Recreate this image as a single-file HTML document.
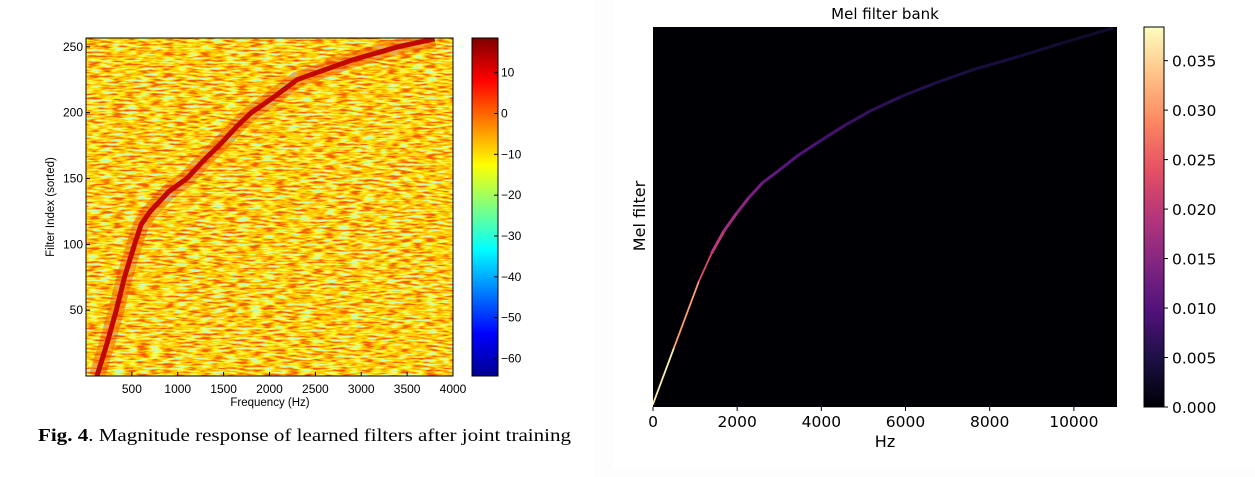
<!DOCTYPE html>
<html><head><meta charset="utf-8"><style>
html,body{margin:0;padding:0;background:#fff;}
svg{display:block;}
</style></head><body>
<svg id="root" width="1255" height="477" viewBox="0 0 1255 477" xmlns="http://www.w3.org/2000/svg">
<defs>
  <filter id="noise" x="0" y="0" width="100%" height="100%">
    <feTurbulence type="fractalNoise" baseFrequency="0.08 0.5" numOctaves="2" seed="3" result="t"/>
    <feColorMatrix type="matrix" in="t" values="2.4 0 0 0 -0.65  2.4 0 0 0 -0.65  2.4 0 0 0 -0.65  0 0 0 0 1"/>
    <feComponentTransfer>
      <feFuncR type="table" tableValues="0.55 1 1 1 0.88"/>
      <feFuncG type="table" tableValues="1 0.95 0.7 0.42 0.12"/>
      <feFuncB type="table" tableValues="0.45 0.05 0 0 0"/>
    </feComponentTransfer>
  </filter>
  <linearGradient id="jet" x1="0" y1="1" x2="0" y2="0">
    <stop offset="0" stop-color="#00008f"/>
    <stop offset="0.125" stop-color="#0000ff"/>
    <stop offset="0.375" stop-color="#00ffff"/>
    <stop offset="0.625" stop-color="#ffff00"/>
    <stop offset="0.875" stop-color="#ff0000"/>
    <stop offset="1" stop-color="#800000"/>
  </linearGradient>
  <linearGradient id="magma" x1="0" y1="1" x2="0" y2="0">
    <stop offset="0" stop-color="#000004"/>
    <stop offset="0.125" stop-color="#1c1044"/>
    <stop offset="0.25" stop-color="#4f127b"/>
    <stop offset="0.375" stop-color="#812581"/>
    <stop offset="0.5" stop-color="#b5367a"/>
    <stop offset="0.625" stop-color="#e55064"/>
    <stop offset="0.75" stop-color="#fb8761"/>
    <stop offset="0.875" stop-color="#fec287"/>
    <stop offset="1" stop-color="#fcfdbf"/>
  </linearGradient>
  <clipPath id="clipL"><rect x="86" y="38" width="367" height="338"/></clipPath>
  <clipPath id="clipR"><rect x="653" y="27" width="464" height="380"/></clipPath>
</defs>
<rect x="595" y="0" width="660" height="477" fill="#fdfdfd"/>
<rect x="613" y="0" width="642" height="468" fill="#ffffff"/>
<g id="left"></g>
<g id="right"></g>
</svg>
<script>
// ---- Left chart data ----
const leftXTicks = [500,1000,1500,2000,2500,3000,3500,4000];
const leftYTicks = [50,100,150,200,250];
const leftCbTicks = [10,0,-10,-20,-30,-40,-50,-60];
const ridgeIndex = [0,25,50,75,100,115,125,140,150,165,175,190,200,212,225,240,250,256];
const ridgeHz    = [120,230,330,420,530,600,700,900,1100,1300,1450,1650,1800,2050,2300,2900,3400,3800];
// ---- Right chart data ----
const melXTicks = [0,2000,4000,6000,8000,10000];
const melCbTicks = [0.000,0.005,0.010,0.015,0.020,0.025,0.030,0.035];
const melHz    = [0,500,1095,1400,1692,2000,2289,2600,2985,3450,3980,4550,5174,5900,6667,7600,8657,9700,10896];
const melIndex = [1,20,42.5,52,59.4,65.5,70.7,75.5,79.6,84.8,89.7,94.8,99.8,104.6,108.9,113.6,117.9,122.5,127.5];
const melPeak  = [0.038,0.036,0.025,0.021,0.018,0.016,0.014,0.012,0.011,0.010,0.009,0.008,0.007,0.006,0.005,0.0045,0.004,0.0035,0.003];

const NS='http://www.w3.org/2000/svg';
function mk(tag, attrs, parent, text){
  const e=document.createElementNS(NS,tag);
  for(const k in attrs) e.setAttribute(k,attrs[k]);
  if(text!==undefined) e.textContent=text;
  parent.appendChild(e); return e;
}
const L=document.getElementById('left'), R=document.getElementById('right');
const lx=v=>86+v/4000*367, ly=v=>376-v/256.7*338;
const lcb=v=>376-(v+64.3)/(18.5+64.3)*338;
let e;
e=mk('rect',{x:86,y:38,width:367,height:338,fill:'#f2b030',filter:'url(#noise)'},L);


const g=mk('g',{'clip-path':'url(#clipL)'},L);
let d=ridgeIndex.map((v,i)=>(i?'L':'M')+lx(ridgeHz[i]).toFixed(1)+' '+ly(v).toFixed(1)).join(' ');
e=mk('path',{d:d,fill:'none',stroke:'#e82000','stroke-width':16,'stroke-opacity':0.35,'stroke-linejoin':'round'},g);


e=mk('path',{d:d,fill:'none',stroke:'#c00800','stroke-width':5,'stroke-linejoin':'round'},g);


e=mk('rect',{x:86,y:38,width:367,height:338,fill:'none',stroke:'#000','stroke-width':1},L);


leftXTicks.forEach(t=>{
  const x=lx(t);
  e=mk('line',{x1:x,y1:376,x2:x,y2:372,stroke:'#000'},L);
  
  
  e=mk('text',{x:x,y:393,'font-family':'Liberation Sans, sans-serif','font-size':12,'text-anchor':'middle'},L,String(t));
  
  
});
leftYTicks.forEach(t=>{
  const y=ly(t);
  e=mk('line',{x1:86,y1:y,x2:90,y2:y,stroke:'#000'},L);
  
  
  e=mk('text',{x:83,y:y+4,'font-family':'Liberation Sans, sans-serif','font-size':12,'text-anchor':'end'},L,String(t));
  
  
});
e=mk('text',{x:270,y:406,'font-family':'Liberation Sans, sans-serif','font-size':11.5,'text-anchor':'middle'},L,'Frequency (Hz)');


e=mk('text',{x:0,y:0,transform:'translate(54,207) rotate(-90)','font-family':'Liberation Sans, sans-serif','font-size':11.5,'text-anchor':'middle'},L,'Filter Index (sorted)');


e=mk('rect',{x:472,y:38,width:26,height:338,fill:'url(#jet)',stroke:'#000'},L);


leftCbTicks.forEach(t=>{
  const y=lcb(t);
  e=mk('line',{x1:494,y1:y,x2:498,y2:y,stroke:'#000'},L);
  
  
  e=mk('text',{x:501,y:y+4,'font-family':'Liberation Sans, sans-serif','font-size':12},L,t<0?'\u2212'+(-t):String(t));
  
  
});
const cap=mk('text',{x:38,y:441,'font-family':'Liberation Serif, serif','font-size':18,textLength:533,lengthAdjust:'spacingAndGlyphs'},L);


mk('tspan',{'font-weight':'bold'},cap,'Fig. 4');
mk('tspan',{},cap,'. Magnitude response of learned filters after joint training');

// right chart
const rx=v=>653+v/11025*464, ry=v=>407-v/128*380;
const rcb=v=>407-v/0.0384*380;
const magStops=[[0,'#000004'],[0.125,'#1c1044'],[0.25,'#4f127b'],[0.375,'#812581'],[0.5,'#b5367a'],[0.625,'#e55064'],[0.75,'#fb8761'],[0.875,'#fec287'],[1,'#fcfdbf']];
function hex(h){return [1,3,5].map(i=>parseInt(h.substr(i,2),16));}
function magma(t){
  t=Math.max(0,Math.min(1,t));
  for(let i=1;i<magStops.length;i++){
    if(t<=magStops[i][0]){
      const a=magStops[i-1],b=magStops[i],f=(t-a[0])/(b[0]-a[0]);
      const ca=hex(a[1]),cb=hex(b[1]);
      return 'rgb('+ca.map((c,j)=>Math.round(c+(cb[j]-c)*f)).join(',')+')';
    }
  }
  return magStops[magStops.length-1][1];
}
e=mk('rect',{x:653,y:27,width:464,height:380,fill:'#000004'},R);


const gr=mk('g',{'clip-path':'url(#clipR)'},R);
for(let i=1;i<melHz.length;i++){
  const v=(melPeak[i-1]+melPeak[i])/2;
  e=mk('line',{x1:rx(melHz[i-1]),y1:ry(melIndex[i-1]),x2:rx(melHz[i]),y2:ry(melIndex[i]),stroke:magma(v/0.0384),'stroke-width':i<4?1.8:3,'stroke-linecap':'round'},gr);
  
  
}
melXTicks.forEach(t=>{
  const x=rx(t);
  e=mk('line',{x1:x,y1:407,x2:x,y2:411,stroke:'#000'},R);
  
  
  e=mk('text',{x:x,y:427,'font-family':'DejaVu Sans, sans-serif','font-size':15.5,'text-anchor':'middle'},R,String(t));
  
  
});
e=mk('text',{x:885,y:447,'font-family':'DejaVu Sans, sans-serif','font-size':16,'text-anchor':'middle'},R,'Hz');


e=mk('text',{x:0,y:0,transform:'translate(645,216) rotate(-90)','font-family':'DejaVu Sans, sans-serif','font-size':16,'text-anchor':'middle'},R,'Mel filter');


e=mk('text',{x:885,y:19,'font-family':'DejaVu Sans, sans-serif','font-size':15,'text-anchor':'middle'},R,'Mel filter bank');


e=mk('rect',{x:1144,y:27,width:20,height:380,fill:'url(#magma)',stroke:'#000'},R);


melCbTicks.forEach(t=>{
  const y=rcb(t);
  e=mk('line',{x1:1164,y1:y,x2:1168,y2:y,stroke:'#000'},R);
  
  
  e=mk('text',{x:1172,y:y+6,'font-family':'DejaVu Sans, sans-serif','font-size':15.5},R,t.toFixed(3));
  
  
});
</script>
</body></html>
